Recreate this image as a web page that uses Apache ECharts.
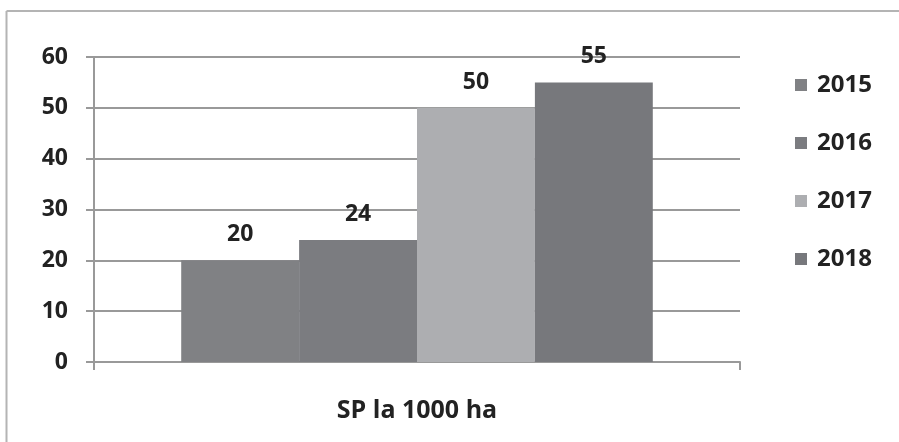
<!DOCTYPE html>
<html>
<head>
<meta charset="utf-8">
<script src="https://cdn.jsdelivr.net/npm/echarts@6/dist/echarts.min.js"></script>
<style>
  html, body { margin: 0; padding: 0; background: #fff; }
  #chart { width: 899px; height: 442px; }
</style>
</head>
<body>
<div id="chart"></div>
<script>
// data
const categories = ["SP la 1000 ha"];
const years = ["2015", "2016", "2017", "2018"];
const values = [20, 24, 50, 55];
const colors = ["#808184", "#7b7c80", "#adaeb1", "#77787c"];
const yTicks = [0, 10, 20, 30, 40, 50, 60];

const font = "'Open Sans', 'DejaVu Sans', sans-serif";

const chart = echarts.init(document.getElementById("chart"));

const series = years.map((y, i) => ({
  name: y,
  type: "bar",
  data: [values[i]],
  barGap: "0%",
  barCategoryGap: "27%",
  itemStyle: { color: colors[i] },
  label: {
    show: true,
    position: "top",
    distance: 14,
    color: "#222",
    fontFamily: font,
    fontWeight: "bold",
    fontSize: 23,
  },
}));

chart.setOption({
  animation: false,
  graphic: [
    {
      type: "line",
      shape: { x1: 6.5, y1: 11, x2: 899, y2: 11 },
      style: { stroke: "#b4b4b4", lineWidth: 2 },
    },
    {
      type: "line",
      shape: { x1: 6.5, y1: 11, x2: 6.5, y2: 442 },
      style: { stroke: "#b4b4b4", lineWidth: 2 },
    },
  ],
  legend: {
    orient: "vertical",
    left: 795,
    top: 73,
    padding: 0,
    itemWidth: 12,
    itemHeight: 12,
    itemGap: 34,
    icon: "rect",
    data: years,
    textStyle: {
      color: "#222",
      fontFamily: font,
      fontWeight: "bold",
      fontSize: 24,
      padding: [0, 0, 0, 5],
    },
  },
  grid: { left: 94, right: 159, top: 57, bottom: 80 },
  xAxis: {
    type: "category",
    data: categories,
    axisLine: { lineStyle: { color: "#999", width: 2 } },
    axisTick: { show: true, length: 8, lineStyle: { color: "#999", width: 2 } },
    axisLabel: {
      margin: 36,
      color: "#222",
      fontFamily: font,
      fontWeight: "bold",
      fontSize: 25,
    },
  },
  yAxis: {
    type: "value",
    min: yTicks[0],
    max: yTicks[yTicks.length - 1],
    interval: 10,
    axisLine: { show: true, lineStyle: { color: "#999", width: 2 } },
    axisTick: { show: true, length: 8, lineStyle: { color: "#999", width: 2 } },
    splitLine: { lineStyle: { color: "#999", width: 2 } },
    axisLabel: {
      margin: 26,
      color: "#222",
      fontFamily: font,
      fontWeight: "bold",
      fontSize: 23,
    },
  },
  series: series,
});
</script>
</body>
</html>
